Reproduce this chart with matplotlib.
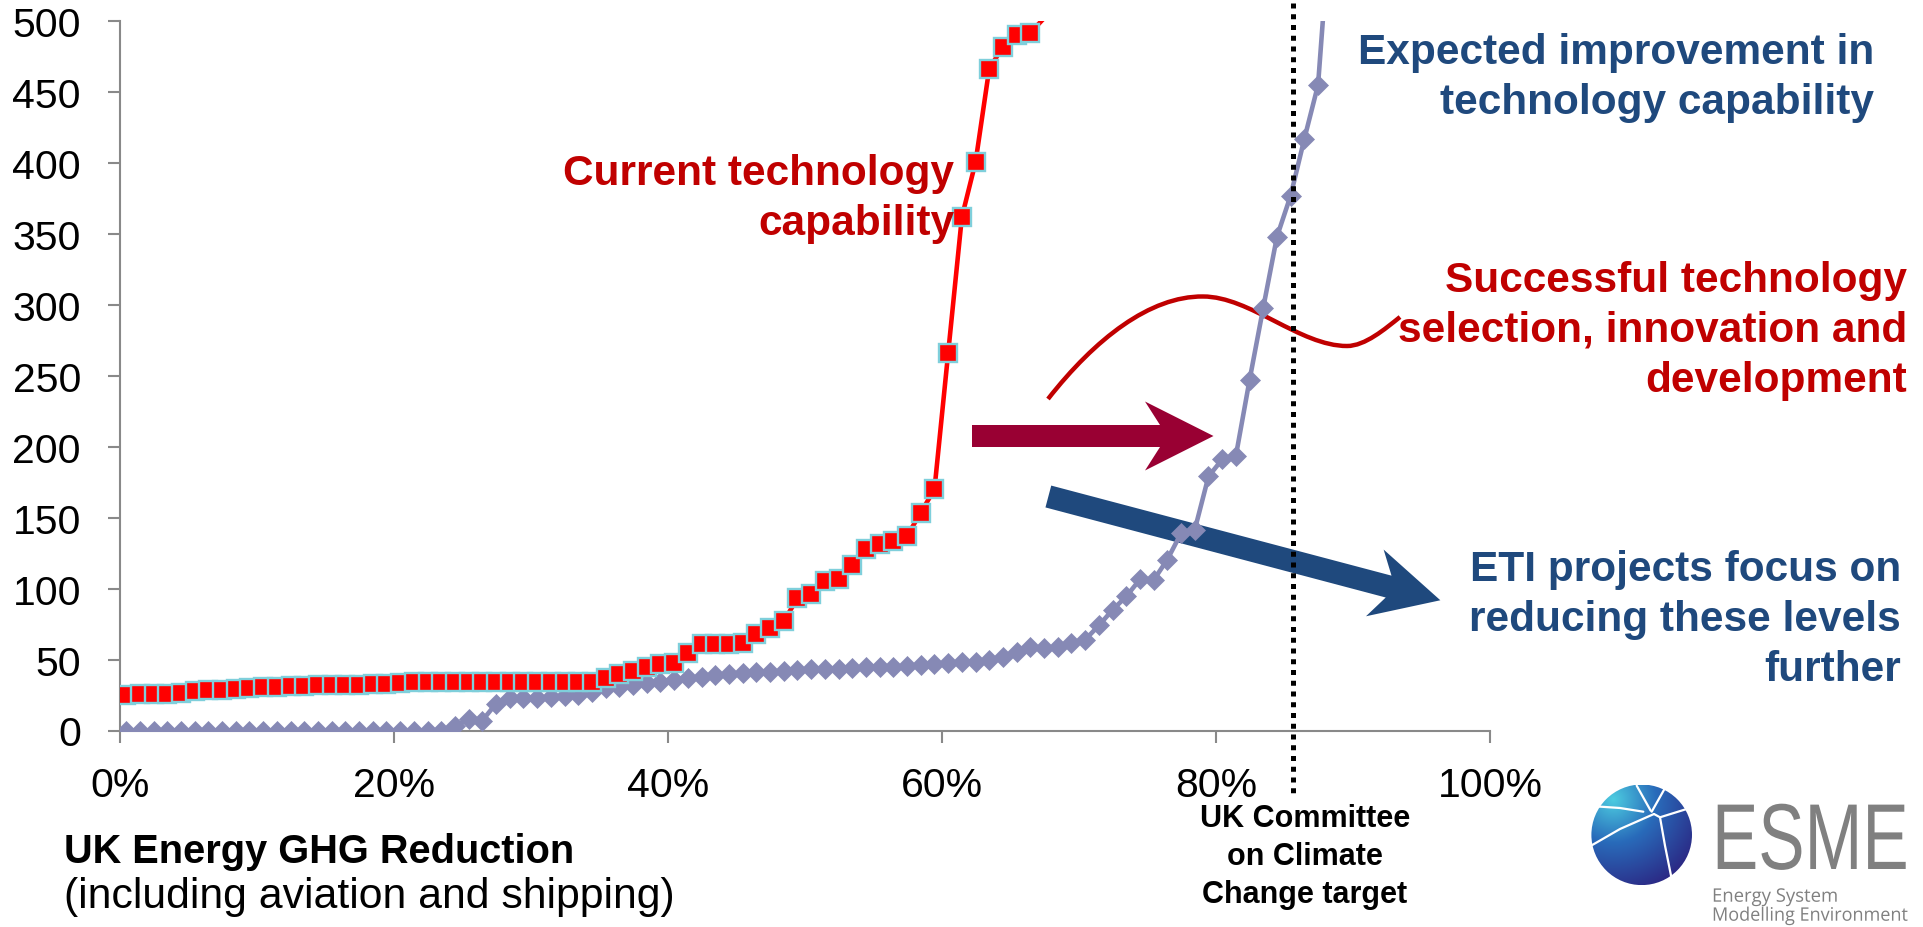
import numpy as np
import matplotlib
matplotlib.use("Agg")
import matplotlib.pyplot as plt
import matplotlib.transforms as mtransforms
from matplotlib.patches import Polygon, Circle, PathPatch
from matplotlib.path import Path
from matplotlib.patheffects import AbstractPathEffect

# ---------------- data ----------------
# GHG reduction steps (%), one point per 1 % step
first_reduction = 0.45
reduction_step = 1.0

current_capability = [
    25, 25.5, 26, 26, 26.6, 27.8, 28.5, 28.5, 29.4, 30,
    30.6, 31, 31.3, 31.3, 31.8, 31.8, 32, 32, 32.5, 33,
    33.6, 34, 34.5, 34.5, 34.5, 34.5, 34.5, 34.5, 34.5, 34.5,
    34.5, 34.5, 34.5, 34.5, 34.5, 36.7, 39.5, 41.8, 45, 46.6,
    47.3, 54.3, 61.2, 61.2, 61.2, 61.9, 67.7, 72.5, 77.1, 93.1,
    96, 105.4, 107.1, 116.4, 127.7, 131.3, 133.6, 137.1, 153.5, 170,
    266, 361.8, 400.6, 466.5, 481.8, 490, 491.7, 502,
]

expected_capability = [
    0, 0, 0, 0, 0, 0, 0, 0, 0, 0,
    0, 0, 0, 0, 0, 0, 0, 0, 0, 0,
    0, 0, 0, 0, 3, 8, 7, 19, 23, 23,
    23, 23.5, 24, 25, 27, 30, 31, 32, 33.5, 34.5,
    35.5, 37, 38, 39, 40, 40.5, 41, 41.5, 42, 42.5,
    43, 43, 43.5, 44, 44.5, 45, 45, 45.5, 46, 47,
    47.5, 48, 48.5, 50, 52, 55, 59, 58, 58.5, 62,
    64, 74, 85, 94.5, 106.5, 106, 120.5, 139, 141.5, 179,
    191, 193.5, 247, 298, 348, 377, 417, 455, 585,
]

x_ticks = [0, 20, 40, 60, 80, 100]
x_tick_labels = ["0%", "20%", "40%", "60%", "80%", "100%"]
y_ticks = [0, 50, 100, 150, 200, 250, 300, 350, 400, 450, 500]
ccc_target = 85.6  # UK Committee on Climate Change target (%)

# ---------------- styling ----------------
W, H = 1923, 928
plt.rcParams["font.family"] = ["Liberation Sans", "DejaVu Sans"]
RED = "#FF0000"
RED_EDGE = "#7FCFDB"
PURPLE = "#8689B5"
DARK_RED = "#C00000"
DARK_BLUE = "#1F497D"
MAROON = "#990033"
AXIS_GREY = "#898989"
LOGO_GREY = "#808080"
ANN = 30.5

fig = plt.figure(figsize=(W / 100, H / 100), dpi=100)
fig.patch.set_facecolor("white")

ax_left, ax_right, ax_top, ax_bottom = 120, 1490, 22, 731.5
ax = fig.add_axes([ax_left / W, 1 - ax_bottom / H,
                   (ax_right - ax_left) / W, (ax_bottom - ax_top) / H])
ax.set_xlim(0, 100)
ax.set_ylim(0, 500)
ax.patch.set_alpha(0)

# pixel transform (origin top-left of figure)
PX = mtransforms.Affine2D().scale(1 / W, -1 / H).translate(0, 1) + fig.transFigure

xr = first_reduction + reduction_step * np.arange(len(current_capability))
xp = first_reduction + reduction_step * np.arange(len(expected_capability))
yr = np.array(current_capability)
yp = np.array(expected_capability)

# expected (purple) series
ax.plot(xp, yp, color=PURPLE, lw=3.3, zorder=3, solid_joinstyle="round")
mp = yp <= 500
ax.plot(xp[mp], yp[mp], ls="none", marker="D", ms=10, mfc=PURPLE,
        mec=PURPLE, mew=0.5, zorder=3)

# current (red) series
ax.plot(xr, yr, color=RED, lw=3.3, zorder=4, solid_joinstyle="round")
mr = yr <= 500
ax.plot(xr[mr], yr[mr], ls="none", marker="s", ms=12.3, mfc=RED,
        mec=RED_EDGE, mew=1.7, zorder=4)

# target dotted line
ax.plot([ccc_target, ccc_target], [513, -47], color="black", lw=3.6,
        ls=(0, (1, 1.15)), clip_on=False, zorder=6)

# axes styling
for s in ["top", "right"]:
    ax.spines[s].set_visible(False)
for s in ["left", "bottom"]:
    ax.spines[s].set_color(AXIS_GREY)
    ax.spines[s].set_linewidth(1.5)
ax.set_xticks(x_ticks)
ax.set_xticklabels(x_tick_labels)
ax.set_yticks(y_ticks)
ax.tick_params(axis="both", direction="out", length=8.6, width=1.5,
               color=AXIS_GREY, labelsize=29.5, labelcolor="black")
ax.tick_params(axis="x", pad=17)
ax.tick_params(axis="y", pad=19.5)

# ---------------- decorations ----------------
# squiggle (red curve)
verts = [(1048, 400), (1095, 340), (1150, 297), (1203, 297.5),
         (1250, 297.5), (1300, 347), (1347, 347),
         (1365, 347), (1385, 330), (1400, 318)]
codes = [Path.MOVETO] + [Path.CURVE4] * 9
ax.add_patch(PathPatch(Path(verts, codes), transform=PX, fill=False,
                       edgecolor=DARK_RED, lw=3.2, zorder=2, clip_on=False,
                       capstyle="butt"))

# maroon horizontal arrow
ax.add_patch(Polygon([(972, 426), (1160, 426), (1145, 402.5), (1213.5, 437),
                      (1145, 471.5), (1160, 448), (972, 448)],
                     closed=True, transform=PX, facecolor=MAROON,
                     edgecolor="none", zorder=2, clip_on=False))

# blue diagonal arrow
S = np.array([1048.35, 497.5])
u = np.array([0.9667, 0.2559])
n = np.array([-0.2559, 0.9667])
bw, hw = 11.3, 34.5
blue_pts = [S - bw * n, S + 352 * u - bw * n, S + 337.7 * u - hw * n,
            S + 405.5 * u, S + 337.7 * u + hw * n, S + 352 * u + bw * n,
            S + bw * n]
ax.add_patch(Polygon(blue_pts, closed=True, transform=PX, facecolor=DARK_BLUE,
                     edgecolor="none", zorder=2, clip_on=False))


def ptext(x, y, s, **kw):
    return fig.text(x / W, 1 - y / H, s, **kw)


def block(x, baselines, lines, ha, **kw):
    for b, s in zip(baselines, lines):
        ptext(x, b, s, ha=ha, va="baseline", **kw)


block(954, [185, 235], ["Current technology", "capability"], "right",
      fontsize=ANN, fontweight="bold", color=DARK_RED, zorder=3)
block(1874, [64, 114], ["Expected improvement in", "technology capability"],
      "right", fontsize=ANN, fontweight="bold", color=DARK_BLUE)
block(1907, [291.7, 341.7, 391.7],
      ["Successful technology", "selection, innovation and", "development"],
      "right", fontsize=ANN, fontweight="bold", color=DARK_RED)
block(1901, [581, 631, 681],
      ["ETI projects focus on", "reducing these levels", "further"],
      "right", fontsize=ANN, fontweight="bold", color=DARK_BLUE)
ptext(64, 863, "UK Energy GHG Reduction", ha="left", va="baseline",
      fontsize=28.6, fontweight="bold", color="black")
ptext(64, 908, "(including aviation and shipping)", ha="left", va="baseline",
      fontsize=30.8, color="black")
block(1305, [826.7, 865, 902.7], ["UK Committee", "on Climate", "Change target"],
      "center", fontsize=22, fontweight="bold", color="black")

# ---------------- ESME logo ----------------
cx, cy, r = 1641.7, 835.8, 50.3
lax = fig.add_axes([(cx - r) / W, 1 - (cy + r) / H, 2 * r / W, 2 * r / H])
lax.set_xlim(0, 1)
lax.set_ylim(0, 1)
lax.axis("off")
gy, gx = np.mgrid[1:0:200j, 0:1:200j]
t = np.clip(np.sqrt((gx - 0.22) ** 2 + (gy - 0.85) ** 2) / 0.95, 0, 1)
c0 = np.array([0.30, 0.80, 0.88])
c1 = np.array([0.16, 0.42, 0.73])
c2 = np.array([0.17, 0.16, 0.52])
t3 = t[..., None]
grad = np.where(t3 < 0.45, c0 + (c1 - c0) * (t3 / 0.45),
                c1 + (c2 - c1) * ((t3 - 0.45) / 0.55))
im = lax.imshow(grad, extent=[0, 1, 0, 1], origin="upper", aspect="auto")
im.set_clip_path(Circle((0.5, 0.5), 0.5, transform=lax.transData))


def lp(px, py):
    return (px - (cx - r)) / (2 * r), 1 - (py - (cy - r)) / (2 * r)


white_lines = [
    [(1595, 807.3), (1620, 809), (1643.3, 812.7)],
    [(1590, 847.3), (1620, 830), (1654, 815)],
    [(1636.7, 786.7), (1650.7, 811.7)],
    [(1666, 787.3), (1651.7, 812.7)],
    [(1654, 815), (1660, 818.3), (1686.7, 810)],
    [(1660, 818.3), (1665, 846.7), (1671.7, 880)],
]
for line in white_lines:
    pts = [lp(a, b) for a, b in line]
    lax.plot([p[0] for p in pts], [p[1] for p in pts], color="white",
             lw=1.6, solid_capstyle="round")


class Stretch(AbstractPathEffect):
    """Stretch text glyphs about the text origin (left baseline)."""

    def __init__(self, sx, sy=1.0):
        super().__init__()
        self.sx = sx
        self.sy = sy

    def draw_path(self, renderer, gc, tpath, affine, rgbFace=None):
        m = affine.get_matrix()
        tx, ty = m[0, 2], m[1, 2]
        extra = (mtransforms.Affine2D().translate(-tx, -ty)
                 .scale(self.sx, self.sy).translate(tx, ty))
        renderer.draw_path(gc, tpath, affine + extra, rgbFace)


def fitted_text(x, baseline, s, size, target_width, sy=1.0, **kw):
    txt = ptext(x, baseline, s, ha="left", va="baseline", fontsize=size, **kw)
    fig.canvas.draw()
    w = txt.get_window_extent().width
    txt.set_path_effects([Stretch(target_width / w, sy)])
    return txt


# ESME: cap height ~67 px, width ~197 px (condensed look)
esme_size = 50
esme_sy = 67 / (0.716 * esme_size * 100 / 72)
fitted_text(1712, 870, "ESME", esme_size, 197, sy=esme_sy, color=LOGO_GREY)
fitted_text(1712, 902.7, "Energy System", 13.4, 126.5,
            family=["Open Sans", "Liberation Sans"], color=LOGO_GREY)
fitted_text(1712, 921.7, "Modelling Environment", 13.4, 196.5,
            family=["Open Sans", "Liberation Sans"], color=LOGO_GREY)

fig.savefig("out.png", dpi=100)
